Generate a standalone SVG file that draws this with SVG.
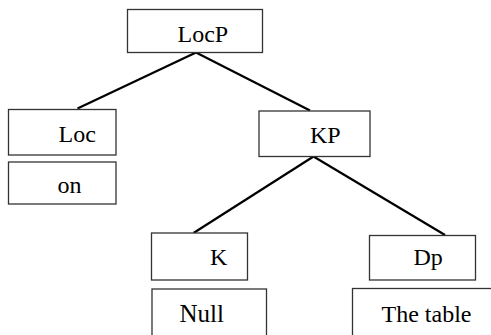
<svg xmlns="http://www.w3.org/2000/svg" width="491" height="335" viewBox="0 0 491 335">
<style>
.box{fill:#fff;stroke:#333;stroke-width:1.3}
.lbl{font-family:'Liberation Serif','Times New Roman',Times,serif;font-size:24px;fill:#000}
.edge{stroke:#000;stroke-width:2.2;fill:none}
</style>
<rect width="491" height="335" fill="#fff"/>
<g id="connectors">
<line class="edge" x1="196" y1="52.5" x2="77.5" y2="108.5"/>
<line class="edge" x1="196" y1="52.5" x2="310" y2="110.5"/>
<line class="edge" x1="313.5" y1="156.5" x2="193.5" y2="233"/>
<line class="edge" x1="313.5" y1="156.5" x2="445" y2="235"/>
</g>
<g id="LocP"><rect class="box" x="127.5" y="9.5" width="135" height="43"/><text class="lbl" font-family="Liberation Serif, serif" x="177.5" y="42.3">LocP</text></g>
<g id="Loc"><rect class="box" x="8.5" y="109.5" width="107.5" height="45.5"/><text class="lbl" font-family="Liberation Serif, serif" x="58.5" y="142">Loc</text></g>
<g id="on"><rect class="box" x="8.5" y="162" width="107.5" height="42"/><text class="lbl" font-family="Liberation Serif, serif" x="57.5" y="193">on</text></g>
<g id="KP"><rect class="box" x="259" y="111" width="111" height="45.5"/><text class="lbl" font-family="Liberation Serif, serif" x="310" y="142.7">KP</text></g>
<g id="K"><rect class="box" x="151.5" y="233" width="96" height="47"/><text class="lbl" font-family="Liberation Serif, serif" x="210" y="265">K</text></g>
<g id="Dp"><rect class="box" x="369.5" y="235.5" width="106" height="44.5"/><text class="lbl" font-family="Liberation Serif, serif" x="413.5" y="265">Dp</text></g>
<g id="Null"><rect class="box" x="152" y="289" width="114.5" height="50"/><text class="lbl" font-family="Liberation Serif, serif" x="179.5" y="321.7" style="font-size:25px">Null</text></g>
<g id="Thetable"><rect class="box" x="352.5" y="288.5" width="145" height="50"/><text class="lbl" font-family="Liberation Serif, serif" x="381.5" y="321.7">The table</text></g>
</svg>
